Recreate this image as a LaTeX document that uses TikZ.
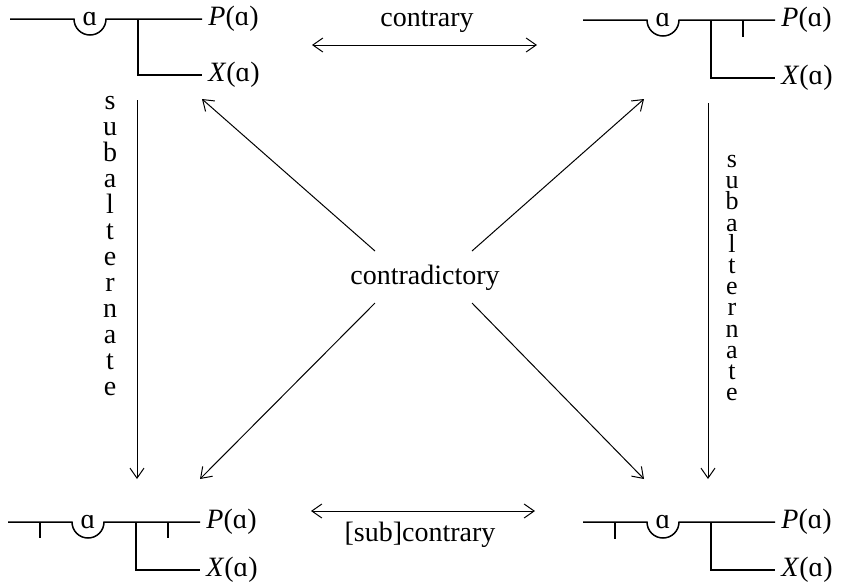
\documentclass[tikz,border=0pt]{standalone}
\usepackage{fontspec}
\setmainfont{Liberation Serif}
\usetikzlibrary{
    arrows.meta,
    positioning
}

\begin{document}
\begin{tikzpicture}[
        x=0.5pt, y=-0.5pt,
        font=\fontsize{14}{17}\selectfont,
        fline/.style={
            line width=0.75pt
        },
        arrow/.style={
            -{Straight Barb[length=5pt,width=7pt]},
            line width=0.5pt
        },
        twoway/.style={
            arrow,
            {Straight Barb[length=5pt,width=7pt]}-{Straight Barb[length=5pt,width=7pt]}
        },
        caption/.style={
            inner sep=1pt
        },
        column/.style={
            align=center,
            inner sep=0pt
        },
        formula/.pic={
            \draw[fline] (0,0) -- (64,0) arc[start angle=180, end angle=0, radius=16] -- (192,0);
            \draw[fline] (128,0) |- (192,#1);
            \node[anchor=base, inner sep=0pt] (bound) at (80,6.5) {ɑ};
            \node[anchor=west, inner sep=3pt] (p) at (192,0) {\textit{P}(ɑ)};
            \node[anchor=west, inner sep=3pt] (x) at (192,#1) {\textit{X}(ɑ)};
        }
    ]

    \useasboundingbox (0,0) rectangle (842,585);

    % the four corners
    \pic (tl) at (10,19) {formula=56};
    \pic (tr) at (583,20) {formula=58};
    \pic (bl) at (8,522) {formula=48};
    \pic (br) at (583,522) {formula=48};

    % negation strokes
    \draw[fline] (743,20) -- ++(0,17);
    \draw[fline] (40,522) -- ++(0,16);
    \draw[fline] (168,522) -- ++(0,16);
    \draw[fline] (615,522) -- ++(0,17);

    % labels
    \node[caption] (contrary) at (427,22) {contrary};
    \node[caption] (subcontrary) at (420,535) {[sub]contrary};
    \node[caption] (contradictory) at (425,278) {contradictory};
    \node[column, font=\fontsize{14}{13}\selectfont] (subalt-l) at (110,246)
        {s\\u\\b\\a\\l\\t\\e\\r\\n\\a\\t\\e};
    \node[column, font=\fontsize{13}{10.6}\selectfont] (subalt-r) at (732,278)
        {s\\u\\b\\a\\l\\t\\e\\r\\n\\a\\t\\e};

    % arrow ends
    \coordinate (top-w) at (312,45);
    \coordinate (top-e) at (537,45);
    \coordinate (bot-w) at (311,511);
    \coordinate (bot-e) at (535,511);
    \coordinate (left-n) at (137,100);
    \coordinate (left-s) at (137,479);
    \coordinate (right-n) at (708,103);
    \coordinate (right-s) at (708,479);
    \coordinate (mid-nw) at (375,251);
    \coordinate (mid-ne) at (472,251);
    \coordinate (mid-sw) at (375,303);
    \coordinate (mid-se) at (472,303);
    \coordinate (tip-nw) at (202,99);
    \coordinate (tip-ne) at (644,99);
    \coordinate (tip-sw) at (200,479);
    \coordinate (tip-se) at (644,479);

    \draw[twoway] (top-w) -- (top-e);
    \draw[twoway] (bot-w) -- (bot-e);
    \draw[arrow] (left-n) -- (left-s);
    \draw[arrow] (right-n) -- (right-s);
    \draw[arrow] (mid-nw) -- (tip-nw);
    \draw[arrow] (mid-ne) -- (tip-ne);
    \draw[arrow] (mid-sw) -- (tip-sw);
    \draw[arrow] (mid-se) -- (tip-se);

\end{tikzpicture}
\end{document}
